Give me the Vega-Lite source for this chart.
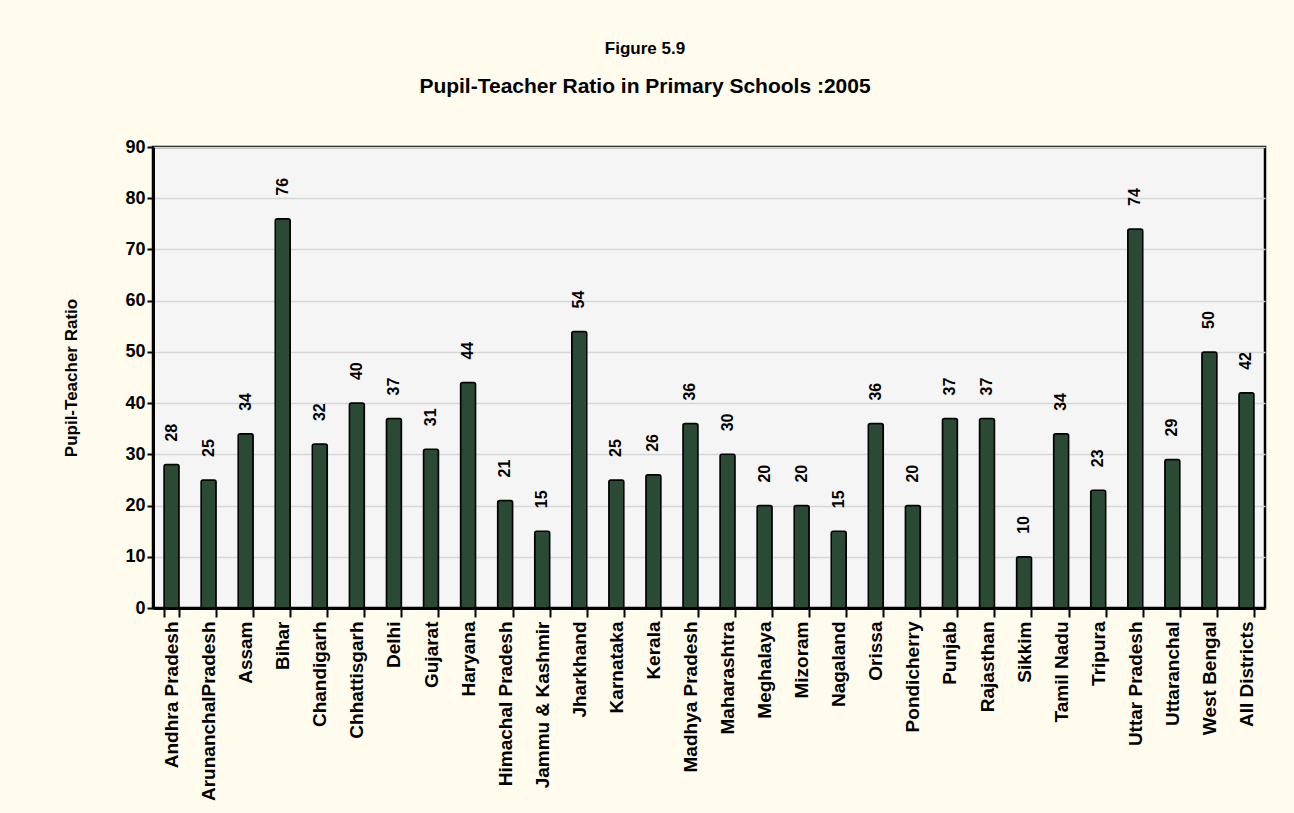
{
  "$schema": "https://vega.github.io/schema/vega-lite/v6.json",
  "autosize": {"type": "none"},
  "width": 1112,
  "height": 461,
  "padding": {"left": 153, "top": 147, "right": 29, "bottom": 205},
  "background": "#FFFCEE",
  "title": {
    "text": "Figure 5.9",
    "subtitle": "Pupil-Teacher Ratio in Primary Schools :2005",
    "anchor": "middle",
    "dx": -64,
    "offset": 40,
    "font": "Liberation Sans",
    "fontSize": 17,
    "fontWeight": "bold",
    "color": "#000000",
    "subtitleFont": "Liberation Sans",
    "subtitleFontSize": 21,
    "subtitleFontWeight": "bold",
    "subtitleColor": "#000000",
    "subtitlePadding": 18
  },
  "config": {
    "view": {"fill": "#F5F5F5", "stroke": "#000000", "strokeWidth": 2.5},
    "axis": {
      "labelFont": "Liberation Sans",
      "labelFontWeight": "bold",
      "labelColor": "#000000",
      "titleFont": "Liberation Sans",
      "titleFontWeight": "bold",
      "titleColor": "#000000",
      "domainColor": "#000000",
      "tickColor": "#000000"
    }
  },
  "data": {
    "values": [
      {"state": "Andhra Pradesh", "ratio": 28},
      {"state": "ArunanchalPradesh", "ratio": 25},
      {"state": "Assam", "ratio": 34},
      {"state": "Bihar", "ratio": 76},
      {"state": "Chandigarh", "ratio": 32},
      {"state": "Chhattisgarh", "ratio": 40},
      {"state": "Delhi", "ratio": 37},
      {"state": "Gujarat", "ratio": 31},
      {"state": "Haryana", "ratio": 44},
      {"state": "Himachal Pradesh", "ratio": 21},
      {"state": "Jammu & Kashmir", "ratio": 15},
      {"state": "Jharkhand", "ratio": 54},
      {"state": "Karnataka", "ratio": 25},
      {"state": "Kerala", "ratio": 26},
      {"state": "Madhya Pradesh", "ratio": 36},
      {"state": "Maharashtra", "ratio": 30},
      {"state": "Meghalaya", "ratio": 20},
      {"state": "Mizoram", "ratio": 20},
      {"state": "Nagaland", "ratio": 15},
      {"state": "Orissa", "ratio": 36},
      {"state": "Pondicherry", "ratio": 20},
      {"state": "Punjab", "ratio": 37},
      {"state": "Rajasthan", "ratio": 37},
      {"state": "Sikkim", "ratio": 10},
      {"state": "Tamil Nadu", "ratio": 34},
      {"state": "Tripura", "ratio": 23},
      {"state": "Uttar Pradesh", "ratio": 74},
      {"state": "Uttaranchal", "ratio": 29},
      {"state": "West Bengal", "ratio": 50},
      {"state": "All Districts", "ratio": 42}
    ]
  },
  "encoding": {
    "x": {
      "field": "state",
      "type": "nominal",
      "sort": null,
      "title": null,
      "scale": {"paddingInner": 0.6, "paddingOuter": 0.3},
      "axis": {
        "labelAngle": -90,
        "labelAlign": "right",
        "labelBaseline": "middle",
        "labelFontSize": 19,
        "labelPadding": 4,
        "labelOverlap": false,
        "tickSize": 9,
        "tickWidth": 2,
        "tickBand": "extent",
        "domainWidth": 3
      }
    },
    "y": {
      "field": "ratio",
      "type": "quantitative",
      "scale": {"domain": [0, 90]},
      "title": "Pupil-Teacher Ratio",
      "axis": {
        "values": [0, 10, 20, 30, 40, 50, 60, 70, 80, 90],
        "labelOverlap": false,
        "labelFontSize": 18,
        "titleFontSize": 17,
        "titlePadding": 44,
        "tickSize": 6,
        "tickWidth": 2,
        "domainWidth": 3,
        "gridColor": "#D6D6D6",
        "gridWidth": 1.5
      }
    }
  },
  "layer": [
    {
      "mark": {"type": "bar", "fill": "#2B4A35", "stroke": "#000000", "strokeWidth": 1.5, "size": 15, "cornerRadiusTopLeft": 2, "cornerRadiusTopRight": 2}
    },
    {
      "mark": {"type": "text", "angle": 270, "align": "left", "baseline": "middle", "dx": 23, "font": "Liberation Sans", "fontSize": 16, "fontWeight": "bold", "color": "#000000"},
      "encoding": {"text": {"field": "ratio", "type": "quantitative"}}
    }
  ]
}
